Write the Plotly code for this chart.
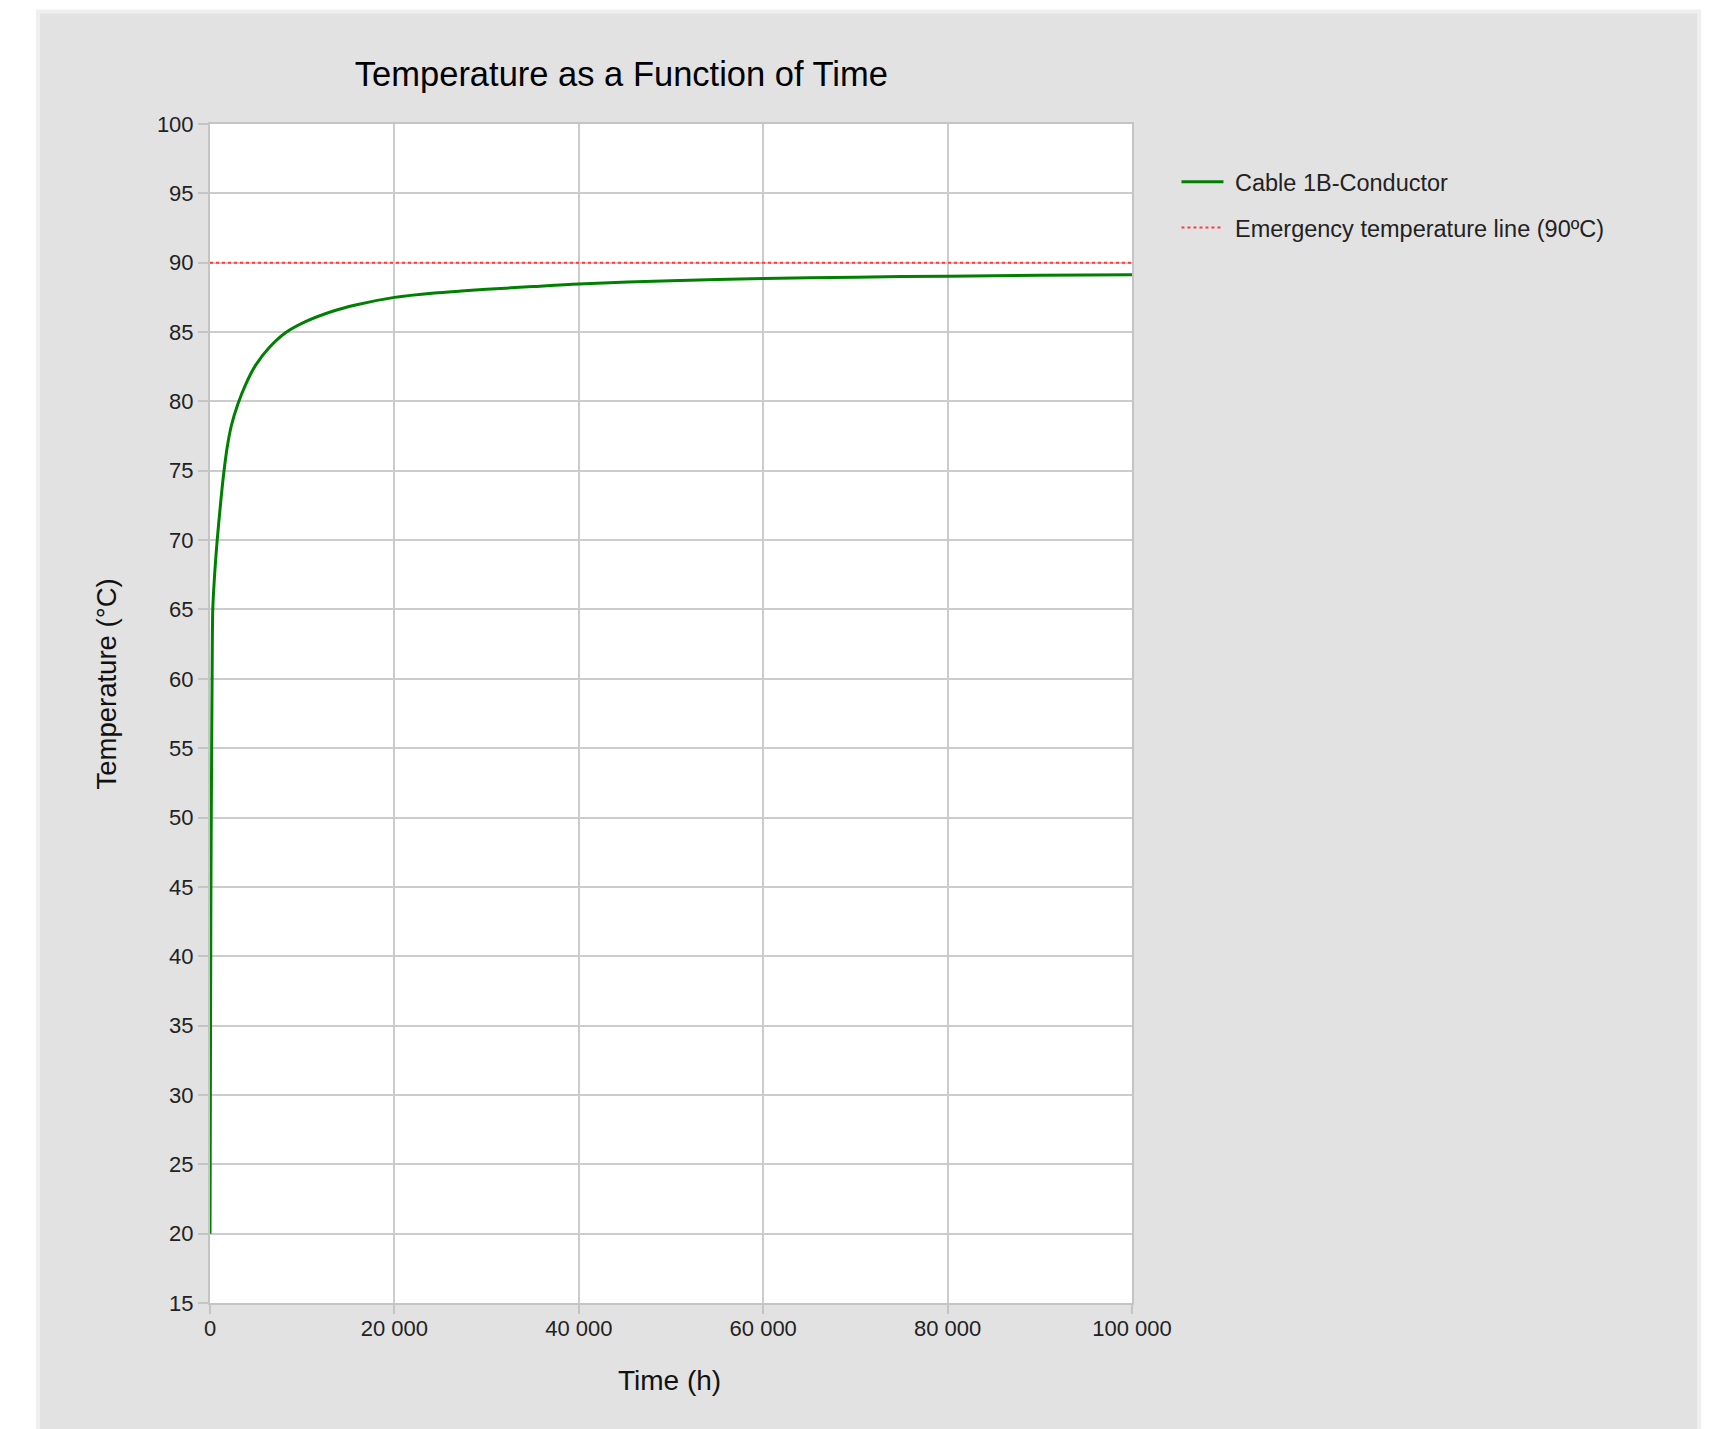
import plotly.graph_objects as go

# Data
time_h = [0, 100, 180, 240, 300, 520, 780, 1140, 1450, 1866, 2333, 3016,
          3850, 4937, 6380, 8190, 10360, 13300, 15790, 20000, 24350, 27250,
          30000, 35000, 40000, 50000, 60000, 70000, 80000, 90000, 100000]
temp_c = [20, 45, 55, 61.2, 65, 67.7, 70, 72.6, 74.6, 76.7, 78.3, 79.8,
          81.2, 82.6, 83.85, 84.95, 85.75, 86.5, 86.95, 87.5, 87.82, 87.96,
          88.08, 88.28, 88.47, 88.7, 88.86, 88.96, 89.03, 89.09, 89.14]
emergency_x = [0, 100000]
emergency_y = [90, 90]

x_tickvals = [0, 20000, 40000, 60000, 80000, 100000]
x_ticktext = ["0", "20 000", "40 000", "60 000", "80 000", "100 000"]
y_tickvals = [15, 20, 25, 30, 35, 40, 45, 50, 55, 60, 65, 70, 75, 80, 85, 90, 95, 100]

FONT = "Arial, Liberation Sans, sans-serif"

OFF = 8  # page body margin
W, H = 1716 - OFF, 1429 - OFF
# plot area in page coordinates
PL, PT, PR, PB = 210, 123.5, 1132.5, 1303
L, T = PL - OFF, PT - OFF
R, B = W - (PR - OFF), H - (PB - OFF)
pw, ph = W - L - R, H - T - B


def px(xpage):
    return (xpage - OFF - L) / pw


def py(ypage):
    return (H - B - (ypage - OFF)) / ph


fig = go.Figure()
fig.add_trace(go.Scatter(
    x=time_h, y=temp_c, mode="lines", name="\u00a0Cable 1B-Conductor",
    line=dict(color="#008000", width=3, shape="spline", smoothing=0.8),
    legendgroup="a"))
fig.add_trace(go.Scatter(
    x=emergency_x, y=emergency_y, mode="lines",
    name="\u00a0Emergency temperature line (90ºC)",
    line=dict(color="#ff3b3b", width=2, dash="dot"), legendgroup="b"))

fig.update_layout(
    width=W, height=H,
    margin=dict(l=L, r=R, t=T, b=B, pad=0),
    paper_bgcolor="white",
    plot_bgcolor="white",
    font=dict(family=FONT, size=22, color="#222222"),
    title=dict(text="Temperature as a Function of Time",
               font=dict(family=FONT, size=34.5, color="#000000"),
               x=px(621.6), xref="paper", xanchor="center",
               y=1 - (74.4 - OFF) / H, yref="container", yanchor="middle"),
    showlegend=True,
    legend=dict(x=px(1177), y=py(159.6), xanchor="left", yanchor="top",
                bgcolor="rgba(0,0,0,0)", font=dict(size=23.5, color="#222222"),
                traceorder="grouped", tracegroupgap=12, itemwidth=42),
    xaxis=dict(range=[0, 100000], tickvals=x_tickvals, ticktext=x_ticktext,
               showgrid=True, gridcolor="#cccccc", gridwidth=2,
               showline=True, linecolor="#c4c4c4", linewidth=2, mirror=True,
               ticks="outside", ticklen=9, tickcolor="#c4c4c4", tickwidth=2,
               ticklabelstandoff=-4,
               zeroline=False, tickfont=dict(size=22, color="#222222")),
    yaxis=dict(range=[15, 100], tickvals=y_tickvals,
               showgrid=True, gridcolor="#cccccc", gridwidth=2,
               showline=True, linecolor="#c4c4c4", linewidth=2, mirror=True,
               ticks="outside", ticklen=10, tickcolor="#c4c4c4", tickwidth=2,
               zeroline=False, tickfont=dict(size=22, color="#222222")),
    shapes=[
        dict(type="rect", xref="paper", yref="paper", layer="below",
             x0=px(38), x1=px(1700), y0=py(1440), y1=py(11),
             fillcolor="#e2e2e2", line=dict(color="#efefef", width=4)),
        dict(type="rect", xref="paper", yref="paper", layer="below",
             x0=0, x1=1, y0=0, y1=1, fillcolor="white", line=dict(width=0)),
    ],
    annotations=[
        dict(text="Time (h)", xref="paper", yref="paper", x=px(669.8), y=py(1381),
             xanchor="center", yanchor="middle", showarrow=False,
             font=dict(size=28, color="#111111")),
        dict(text="Temperature (°C)", xref="paper", yref="paper", x=px(106.2), y=py(684),
             xanchor="center", yanchor="middle", showarrow=False, textangle=-90,
             font=dict(size=27.5, color="#111111")),
    ],
)

fig.write_html("out.html")
